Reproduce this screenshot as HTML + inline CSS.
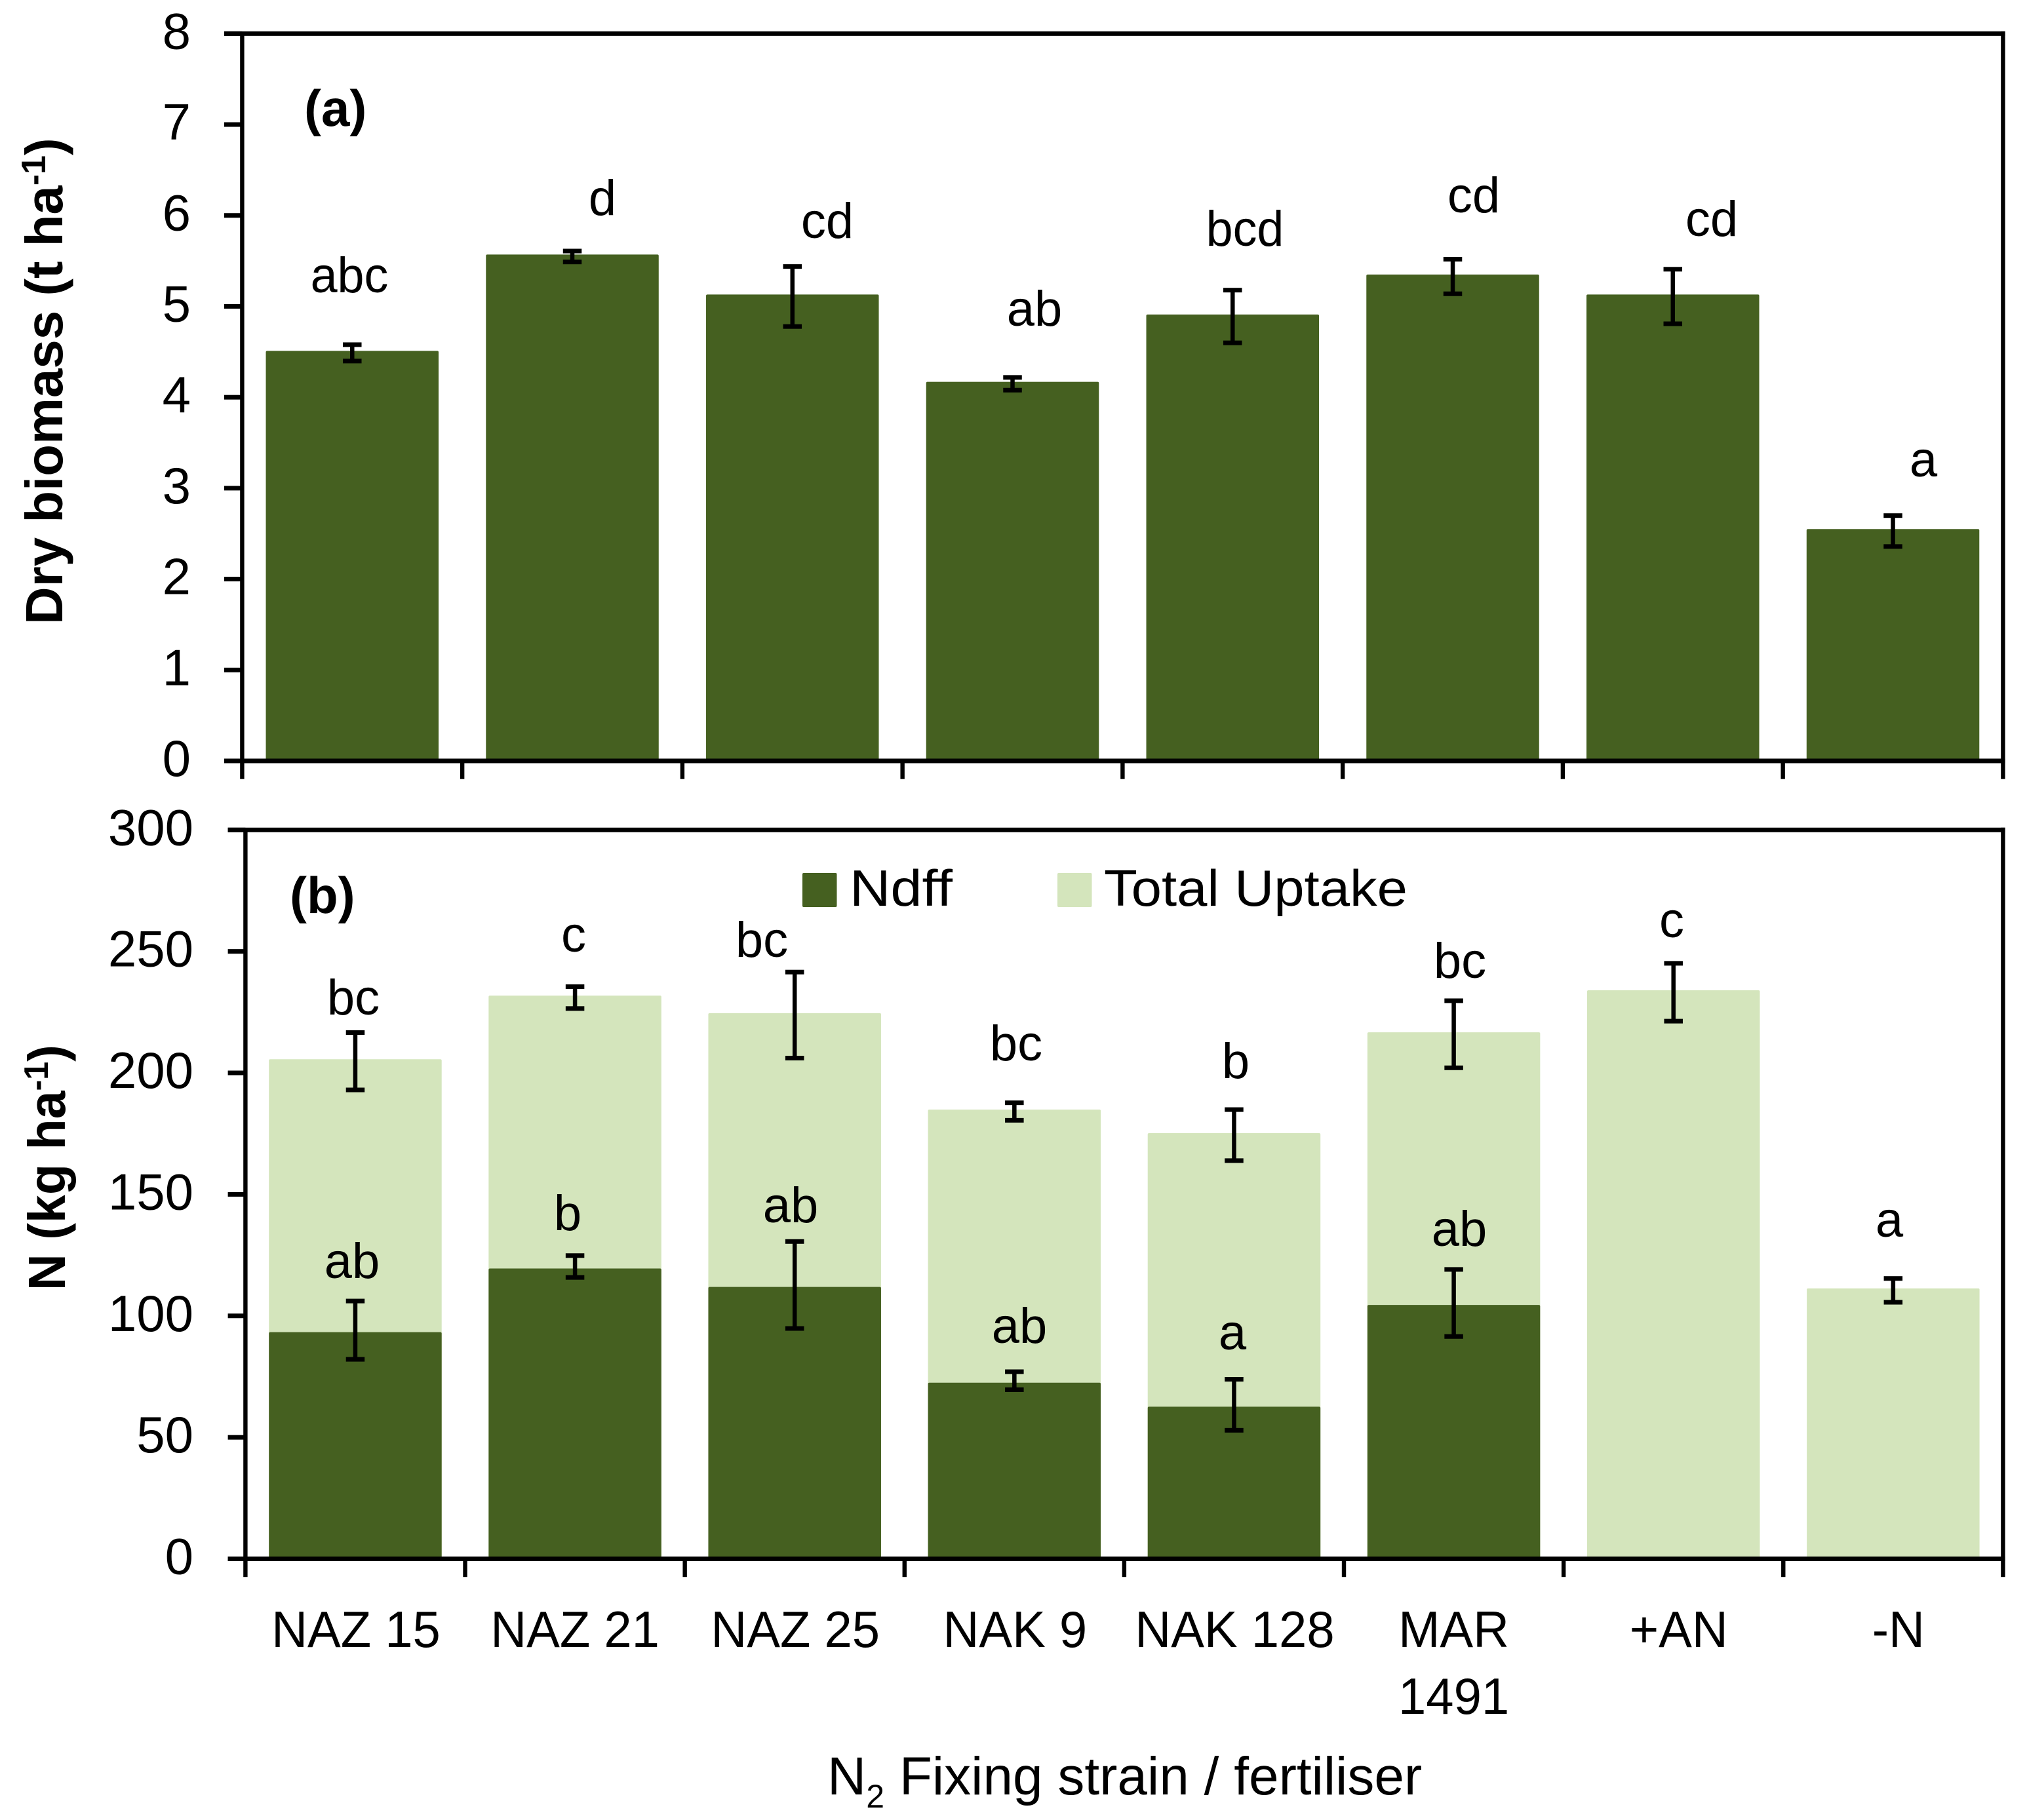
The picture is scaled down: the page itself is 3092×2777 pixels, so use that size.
<!DOCTYPE html>
<html lang="en">
<head>
<meta charset="utf-8">
<title>Dry biomass and nitrogen uptake by N2 fixing strain</title>
<style>
html,body{margin:0;padding:0;background:#fff;}
svg{display:block;}
text{font-family:"Liberation Sans",sans-serif;fill:#000;}
</style>
</head>
<body>
<svg id="chart" xmlns="http://www.w3.org/2000/svg" width="3092" height="2777" viewBox="0 0 3092 2777">
  <rect x="0" y="0" width="3092" height="2777" fill="#ffffff"/>
  <g id="layer-bars"></g>
  <g id="layer-axes"></g>
  <g id="layer-errors"></g>
  <g id="layer-labels"></g>

  <g font-size="76" text-anchor="middle">
    <text x="533" y="446" transform="translate(533 0) scale(.97 1) translate(-533 0)">abc</text>
    <text x="919" y="328">d</text>
    <text x="1262" y="363">cd</text>
    <text x="1578" y="497">ab</text>
    <text x="1899" y="375" transform="translate(1899 0) scale(.97 1) translate(-1899 0)">bcd</text>
    <text x="2248" y="324">cd</text>
    <text x="2611" y="360">cd</text>
    <text x="2934" y="727">a</text>
  </g>
  <g font-size="76" text-anchor="middle">
    <text x="539" y="1548">bc</text>
    <text x="875" y="1452">c</text>
    <text x="1162" y="1460">bc</text>
    <text x="1550" y="1618">bc</text>
    <text x="1885" y="1645">b</text>
    <text x="2227" y="1492">bc</text>
    <text x="2550" y="1430">c</text>
    <text x="2882" y="1887">a</text>
    <text x="537" y="1950">ab</text>
    <text x="866" y="1877">b</text>
    <text x="1206" y="1865">ab</text>
    <text x="1555" y="2049">ab</text>
    <text x="1880" y="2059">a</text>
    <text x="2226" y="1901">ab</text>
  </g>

  <text x="464" y="192" font-size="78" font-weight="bold">(a)</text>
  <text x="442" y="1393" font-size="78" font-weight="bold">(b)</text>

  <text font-size="80" font-weight="bold" transform="translate(95 953) rotate(-90) scale(.998 1)">Dry biomass (t ha<tspan font-size="52" dy="-26">-1</tspan><tspan dy="26">)</tspan></text>
  <text font-size="80" font-weight="bold" transform="translate(99 1969) rotate(-90) scale(.965 1)">N (kg ha<tspan font-size="52" dy="-26">-1</tspan><tspan dy="26">)</tspan></text>

  <text font-size="82" x="1262" y="2738">N<tspan font-size="50" dy="20">2</tspan><tspan dy="-20"> Fixing strain / fertiliser</tspan></text>

  <g>
    <rect x="1224" y="1332" width="52.5" height="52" rx="2" fill="#456020"/>
    <text x="1296" y="1382" font-size="78" textLength="157" lengthAdjust="spacingAndGlyphs">Ndff</text>
    <rect x="1613" y="1332" width="52.5" height="52" rx="2" fill="#d4e5bc"/>
    <text x="1684" y="1382" font-size="78" textLength="463" lengthAdjust="spacingAndGlyphs">Total Uptake</text>
  </g>

<script>
/* ---------- chart data ---------- */
var categories = ["NAZ 15", "NAZ 21", "NAZ 25", "NAK 9", "NAK 128", "MAR|1491", "+AN", "-N"];

var biomassValues = [4.51, 5.57, 5.13, 4.17, 4.91, 5.35, 5.13, 2.55];
var biomassErrors = [0.09, 0.06, 0.33, 0.07, 0.29, 0.19, 0.30, 0.17];
var biomassTicks = [0, 1, 2, 3, 4, 5, 6, 7, 8];

var totalUptakeValues = [205.6, 231.8, 224.6, 184.9, 175.2, 216.7, 234, 111.3];
var totalUptakeErrors = [11.8, 4.5, 17.7, 3.6, 10.5, 13.8, 11.9, 4.9];
var ndffValues = [93.3, 119.5, 111.9, 72.5, 62.6, 104.5];
var ndffErrors = [12, 4.5, 17.9, 3.7, 10.5, 13.8];
var nitrogenTicks = [0, 50, 100, 150, 200, 250, 300];

/* ---------- layout ---------- */
var SVGNS = 'http://www.w3.org/2000/svg';
var DARK = '#456020', LIGHT = '#d4e5bc';
var BAR_W = 263.5, CAP_W = 28.5, CAP_H = 7, STEM = 6.5, ERR_SHIFT = 3, NDFF_ERR_SHIFT = -3;
var panelA = {left: 369.4, right: 3055.4, top: 51.3, bottom: 1161, tickEnd: 342, max: 8};
var panelB = {left: 374.4, right: 3055.4, top: 1266.3, bottom: 2378.5, tickEnd: 347.6, max: 300};
var barsLayer = document.getElementById('layer-bars');
var axesLayer = document.getElementById('layer-axes');
var errorsLayer = document.getElementById('layer-errors');
var labelsLayer = document.getElementById('layer-labels');

function xCenter(p, i) { return p.left + (p.right - p.left) * (i + 0.5) / categories.length; }
function xEdge(p, i) { return p.left + (p.right - p.left) * i / categories.length; }
function yScale(p, v) { return p.bottom - (p.bottom - p.top) * v / p.max; }

function make(tag, attrs, parent) {
  var n = document.createElementNS(SVGNS, tag);
  for (var k in attrs) n.setAttribute(k, attrs[k]);
  parent.appendChild(n);
  return n;
}
function drawBar(p, i, v, fill, parent) {
  var yTop = yScale(p, v);
  var r = make('path', {
    d: 'M' + (xCenter(p, i) - BAR_W / 2) + ' ' + p.bottom + 'V' + (yTop + 2) + 'q0 -2 2 -2H' + (xCenter(p, i) + BAR_W / 2 - 2) + 'q2 0 2 2V' + p.bottom + 'Z',
    fill: fill
  }, parent);
  return r;
}
function drawError(p, i, v, e, shift) {
  var cx = xCenter(p, i), y1 = yScale(p, v + e) + shift, y2 = yScale(p, v - e) + shift;
  var g = make('g', {fill: '#000'}, errorsLayer);
  make('rect', {x: cx - STEM / 2, y: y1, width: STEM, height: y2 - y1}, g);
  make('rect', {x: cx - CAP_W / 2, y: y1 - CAP_H / 2, width: CAP_W, height: CAP_H}, g);
  make('rect', {x: cx - CAP_W / 2, y: y2 - CAP_H / 2, width: CAP_W, height: CAP_H}, g);
  return g;
}
function hLine(x1, x2, y, parent) { return make('rect', {x: x1, y: y - 3.5, width: x2 - x1, height: 7, fill: '#000'}, parent); }
function vLine(x, y1, y2, parent) { return make('rect', {x: x - 3.2, y: y1, width: 6.4, height: y2 - y1, fill: '#000'}, parent); }

function drawAxes(p, ticks, labelX) {
  var tickBottom = p.bottom + 27.7;
  var top = hLine(p.tickEnd, p.right + 3.2, p.top, axesLayer);
  
  
  var base = hLine(p.tickEnd, p.right + 3.2, p.bottom, axesLayer);
  
  
  var yLine = vLine(p.left, p.top, tickBottom, axesLayer);
  
  
  var rightLine = vLine(p.right, p.top - 3.5, tickBottom, axesLayer);
  
  
  ticks.forEach(function (t) {
    var yy = yScale(p, t);
    var mark = hLine(p.tickEnd, p.left, yy, axesLayer);
    
    
    var lab = make('text', {x: labelX, y: yy + 23, 'font-size': 78, 'text-anchor': 'end'}, labelsLayer);
    lab.textContent = String(t);
    
    
  });
  for (var i = 1; i < categories.length; i++) {
    var xt = vLine(xEdge(p, i), p.bottom, tickBottom, axesLayer);
    
    
  }
}

/* panel (a) */
biomassValues.forEach(function (v, i) {
  var b = drawBar(panelA, i, v, DARK, barsLayer);
  
  
  var e = drawError(panelA, i, v, biomassErrors[i], ERR_SHIFT);
  
  
});
drawAxes(panelA, biomassTicks, 291);

/* panel (b) */
totalUptakeValues.forEach(function (v, i) {
  var b = drawBar(panelB, i, v, LIGHT, barsLayer);
  
  
  var e = drawError(panelB, i, v, totalUptakeErrors[i], ERR_SHIFT);
  
  
});
ndffValues.forEach(function (v, i) {
  var b = drawBar(panelB, i, v, DARK, barsLayer);
  
  
  var e = drawError(panelB, i, v, ndffErrors[i], NDFF_ERR_SHIFT);
  
  
});
drawAxes(panelB, nitrogenTicks, 295);

/* category labels */
categories.forEach(function (c, i) {
  var nudge = i >= 6 ? 8 : (i === 1 ? 0 : (i === 5 ? 0 : 1));
  var lines = c.split('|');
  lines.forEach(function (line, j) {
    var cx = xCenter(panelB, i) + nudge;
    var baseY = 2513 + j * 102;
    var t = make('text', {transform: 'translate(' + cx + ' ' + baseY + ') scale(.975 1)', 'font-size': 78, 'text-anchor': 'middle'}, labelsLayer);
    t.textContent = line;
    
    
  });
});
</script>
</svg>
</body>
</html>
